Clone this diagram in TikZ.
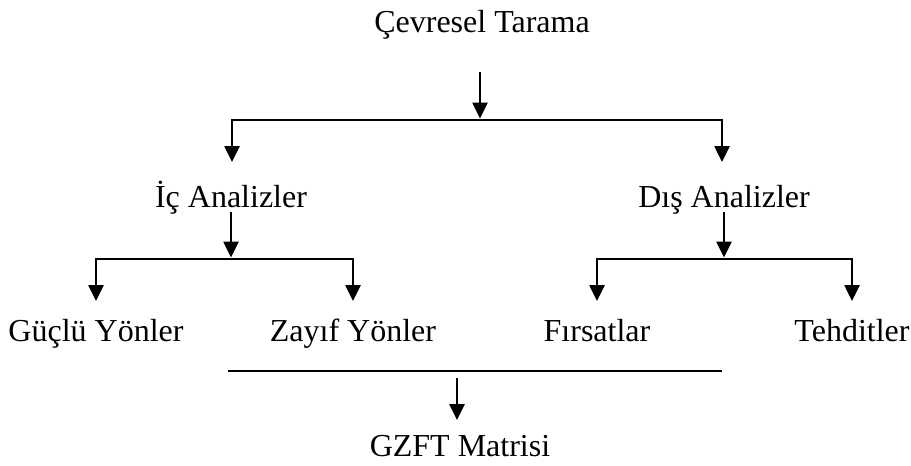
\documentclass[tikz,border=0pt]{standalone}
\usepackage{fontspec}
\setmainfont{Liberation Serif}
\usetikzlibrary{arrows.meta,calc}
\begin{document}
\begin{tikzpicture}[x=1pt,y=-1pt,
  lbl/.style={inner sep=0pt, anchor=base, font=\fontsize{32}{36}\selectfont},
  ln/.style={line width=2.6pt},
  arr/.style={ln, -{Triangle[width=15pt,length=16pt]}}]
\useasboundingbox (0,0) rectangle (911,466);
% text nodes
\node[lbl] (top) at (482,32) {Çevresel Tarama};
\node[lbl] (ic)  at (231,207) {İç Analizler};
\node[lbl] (dis) at (724,207) {Dış Analizler};
\node[lbl] (g)   at (96,341)  {Güçlü Yönler};
\node[lbl] (z)   at (353,341) {Zayıf Yönler};
\node[lbl] (f)   at (597,341) {Fırsatlar};
\node[lbl] (t)   at (852,341) {Tehditler};
\node[lbl] (m)   at (460,456) {GZFT Matrisi};
% junction coordinates
\coordinate (topS) at ($(top.base)+(-2,40)$);
\coordinate (topJ) at ($(top.base)+(-2,88)$);
\coordinate (icT)  at ($(ic.base)+(1,-45)$);
\coordinate (disT) at ($(dis.base)+(-2,-45)$);
\coordinate (icS)  at ($(ic.base)+(0,5)$);
\coordinate (icJ)  at ($(ic.base)+(0,52)$);
\coordinate (disS) at ($(dis.base)+(0,5)$);
\coordinate (disJ) at ($(dis.base)+(0,52)$);
\coordinate (gT) at ($(g.base)+(0,-40)$);
\coordinate (zT) at ($(z.base)+(0,-40)$);
\coordinate (fT) at ($(f.base)+(0,-40)$);
\coordinate (tT) at ($(t.base)+(0,-40)$);
\coordinate (bl) at (228,371);
\coordinate (br) at (722,371);
\coordinate (mS) at (457,378);
\coordinate (mT) at ($(m.base)+(-3,-36)$);
% connectors
\draw[arr] (topS) -- ($(topJ)+(0,-1.5)$);
\draw[arr] (topJ) -| (icT);
\draw[arr] (topJ) -| (disT);
\draw[arr] (icS) -- ($(icJ)+(0,-1.5)$);
\draw[arr] (icJ) -| (gT);
\draw[arr] (icJ) -| (zT);
\draw[arr] (disS) -- ($(disJ)+(0,-1.5)$);
\draw[arr] (disJ) -| (fT);
\draw[arr] (disJ) -| (tT);
\draw[ln] (bl) -- (br);
\draw[arr] (mS) -- (mT);
\end{tikzpicture}
\end{document}
